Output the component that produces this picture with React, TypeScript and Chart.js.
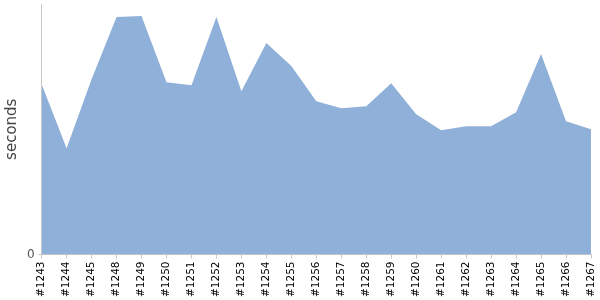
import React, { useEffect, useRef } from "react";
import { Chart, registerables } from "chart.js";

Chart.register(...registerables);

const builds = ["#1243","#1244","#1245","#1248","#1249","#1250","#1251","#1252","#1253","#1254","#1255","#1256","#1257","#1258","#1259","#1260","#1261","#1262","#1263","#1264","#1265","#1266","#1267"];
const seconds = [17.0,10.6,17.5,23.7,23.8,17.2,16.9,23.7,16.3,21.1,18.8,15.3,14.6,14.8,17.1,14.0,12.4,12.8,12.8,14.2,20.0,13.3,12.5];
const yMax = 25;

export default function App() {
  const ref = useRef<HTMLCanvasElement>(null);
  useEffect(() => {
    const chart = new Chart(ref.current!, {
      type: "line",
      data: {
        labels: builds,
        datasets: [{
          data: seconds,
          fill: true,
          backgroundColor: "rgb(143,177,217)",
          borderColor: "rgb(143,177,217)",
          borderWidth: 0,
          pointRadius: 0,
          tension: 0,
        }],
      },
      options: {
        animation: false,
        responsive: false,
        maintainAspectRatio: false,
        layout: { padding: { top: 4, right: 9, left: 1, bottom: 0 } },
        plugins: { legend: { display: false }, tooltip: { enabled: false } },
        scales: {
          x: {
            offset: false,
            afterFit: (axis: any) => { axis.paddingRight = 0; axis.paddingLeft = 0; },
            grid: { drawOnChartArea: false, drawTicks: true, tickLength: 4, color: "#c8c8c8" },
            border: { color: "#c8c8c8" },
            ticks: { autoSkip: false, minRotation: 90, maxRotation: 90, color: "#000", font: { family: "DejaVu Sans", size: 10.5 }, padding: 3 },
          },
          y: {
            min: 0,
            max: yMax,
            afterBuildTicks: (axis: any) => { axis.ticks = [{ value: 0 }]; },
            afterFit: (axis: any) => { axis.paddingTop = 0; axis.paddingBottom = 0; },
            grid: { drawOnChartArea: false, drawTicks: true, tickLength: 3, color: "#c8c8c8" },
            border: { color: "#c8c8c8" },
            ticks: { color: "#555", font: { family: "DejaVu Sans", size: 12 }, padding: 4 },
            title: { display: true, text: "seconds", color: "#444", font: { family: "DejaVu Sans", size: 15 }, padding: 2 },
          },
        },
      },
    });
    return () => chart.destroy();
  }, []);
  return (
    <div style={{ position: "absolute", left: 0, top: 0, width: 600, height: 300 }}>
      <canvas ref={ref} width={600} height={300} />
    </div>
  );
}
